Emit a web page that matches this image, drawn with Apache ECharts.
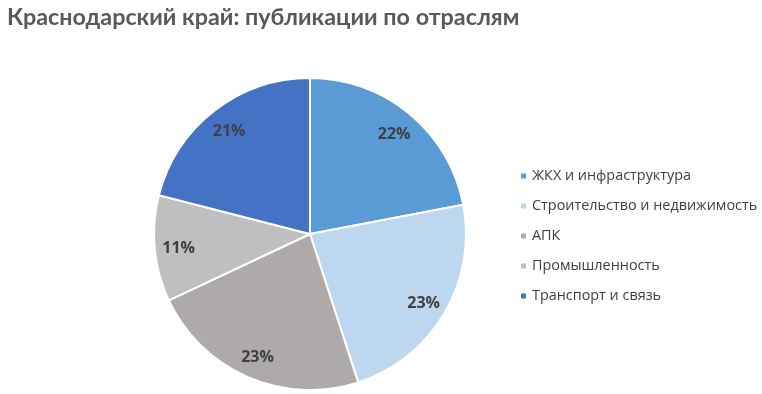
<!DOCTYPE html>
<html>
<head>
<meta charset="utf-8">
<script src="https://cdn.jsdelivr.net/npm/echarts@6/dist/echarts.min.js"></script>
<style>html,body{margin:0;padding:0;background:#fff}#c{width:762px;height:394px}</style>
</head>
<body>
<div id="c"></div>
<script>
const categories = ['ЖКХ и инфраструктура', 'Строительство и недвижимость', 'АПК', 'Промышленность', 'Транспорт и связь'];
const shares = [22, 23, 23, 11, 21];
const colors = ['#5B9BD5', '#BDD7EE', '#AEAAAA', '#BFBFBF', '#4472C4'];
const titleText = 'Краснодарский край: публикации по отраслям';

const chart = echarts.init(document.getElementById('c'), null, {renderer: 'canvas'});
const mainData = categories.map((n, i) => ({name: n, value: shares[i], itemStyle: {color: colors[i]}}));
const labelData = categories.map((n, i) => ({name: n, value: shares[i]}));
chart.setOption({
  animation: false,
  title: {
    text: titleText, left: 2, top: 1,
    textStyle: {fontFamily: 'Lato', fontWeight: 'bold', fontSize: 23.3, color: '#595959'}
  },
  legend: {
    orient: 'vertical', left: 514, top: 164,
    itemWidth: 7, itemHeight: 7, itemGap: 16,
    icon: 'rect',
    data: categories,
    textStyle: {fontFamily: 'Open Sans', fontSize: 14.4, color: '#404040'}
  },
  series: [
    {
      type: 'pie', center: [310, 234], radius: [0, 156],
      startAngle: 90, clockwise: true,
      itemStyle: {borderColor: '#fff', borderWidth: 2},
      label: {show: false}, labelLine: {show: false},
      silent: true,
      data: mainData
    },
    {
      type: 'pie', center: [310, 236], radius: [102, 156],
      startAngle: 90, clockwise: true,
      itemStyle: {color: 'rgba(0,0,0,0)', borderWidth: 0},
      label: {
        show: true, position: 'inside', formatter: '{c}%',
        fontFamily: 'Open Sans', fontWeight: 'bold', fontSize: 16, color: '#404040'
      },
      labelLine: {show: false},
      silent: true,
      data: labelData
    }
  ]
});
</script>
</body>
</html>
